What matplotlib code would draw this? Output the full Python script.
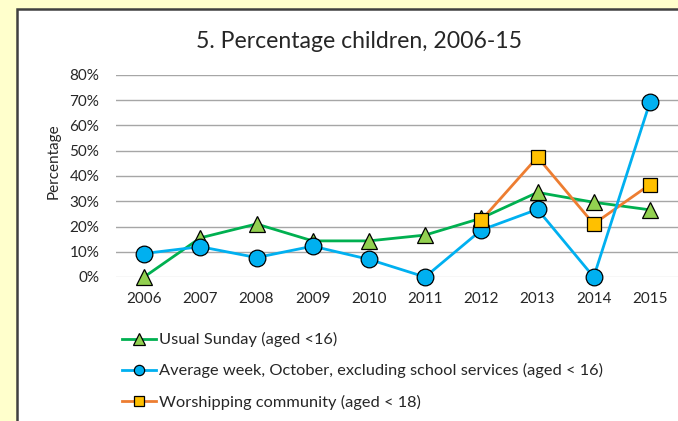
import matplotlib.pyplot as plt
from matplotlib.lines import Line2D
from matplotlib.patches import Rectangle
import numpy as np

years = [2006, 2007, 2008, 2009, 2010, 2011, 2012, 2013, 2014, 2015]
usual_sunday = [0.0, 15.5, 21.0, 14.3, 14.3, 16.6, 23.3, 33.5, 29.6, 26.6]
average_week = [9.3, 12.0, 7.7, 12.2, 7.0, 0.0, 18.6, 26.8, 0.0, 69.2]
worship_years = [2012, 2013, 2014, 2015]
worship_comm = [22.5, 47.5, 21.0, 36.6]

labels = ['Usual Sunday (aged <16)',
          'Average week, October, excluding school services (aged < 16)',
          'Worshipping community (aged < 18)']

plt.rcParams['font.family'] = ['Lato', 'DejaVu Sans']

W, H = 678, 421
fig = plt.figure(figsize=(W / 100, H / 100), dpi=100)
fig.patch.set_facecolor('#FFFFCC')

# white chart box with dark border (runs off the right/bottom of the image)
box = Rectangle((17 / W, -0.1), 1.0, 1.1 - 9 / H, transform=fig.transFigure,
                facecolor='white', edgecolor='#404040', linewidth=1.8, zorder=-5)
fig.patches.append(box)

ax = fig.add_axes([116 / W, 1 - 277 / H, 1 - 116 / W, 202 / H])
ax.set_facecolor('none')
ax.set_zorder(2)

x = np.array(years)
ax.set_xlim(2005.5, 2015.5)
ax.set_ylim(0, 80)

green, green_fill = '#00B050', '#92D050'
blue = '#00B0F0'
orange, orange_fill = '#ED7D31', '#FFC000'

ax.plot(x, usual_sunday, color=green, lw=2, zorder=3)
ax.plot(worship_years, worship_comm, color=orange, lw=2, zorder=3.1)
ax.plot(x, average_week, color=blue, lw=2, zorder=3.2)

ax.plot(x, usual_sunday, ls='none', marker='^', ms=11.5, mfc=green_fill, mec='black',
        mew=0.9, zorder=4, clip_on=False)
ax.plot(x, average_week, ls='none', marker='o', ms=12, mfc=blue, mec='black',
        mew=0.9, zorder=4.1, clip_on=False)
ax.plot(worship_years, worship_comm, ls='none', marker='s', ms=10, mfc=orange_fill,
        mec='black', mew=0.9, zorder=4.2, clip_on=False)

ax.set_yticks(range(0, 81, 10))
ax.set_yticklabels([f'{v}%' for v in range(0, 81, 10)])
ax.set_xticks(years)
ax.grid(axis='y', color='#A6A6A6', lw=1)
ax.get_ygridlines()[0].set_color('#D9D9D9')
ax.set_axisbelow(True)
for s in ax.spines.values():
    s.set_visible(False)
ax.tick_params(length=0, labelsize=11, colors='#262626')
ax.tick_params(axis='y', pad=12)
ax.tick_params(axis='x', pad=11)

fig.text(54 / W, 1 - 161 / H, 'Percentage', rotation=90, ha='center', va='center',
         fontsize=11, color='#262626')
fig.text(359 / W, 1 - 41 / H, '5. Percentage children, 2006-15', ha='center', va='center',
         fontsize=16.6, color='#262626')

handles = [
    Line2D([], [], color=green, lw=2, marker='^', ms=8.6, mfc=green_fill, mec='black', mew=0.9),
    Line2D([], [], color=blue, lw=2, marker='o', ms=7.4, mfc=blue, mec='black', mew=0.9),
    Line2D([], [], color=orange, lw=2, marker='s', ms=7, mfc=orange_fill, mec='black', mew=0.9),
]
fig.legend(handles, labels, loc='upper left', bbox_to_anchor=(114 / W, 1 - 324 / H),
           frameon=False, fontsize=11.8, handlelength=2.05, handletextpad=0.2,
           labelspacing=0.98, borderpad=0, labelcolor='#262626')

fig.savefig('out.png', dpi=100, facecolor=fig.get_facecolor())
